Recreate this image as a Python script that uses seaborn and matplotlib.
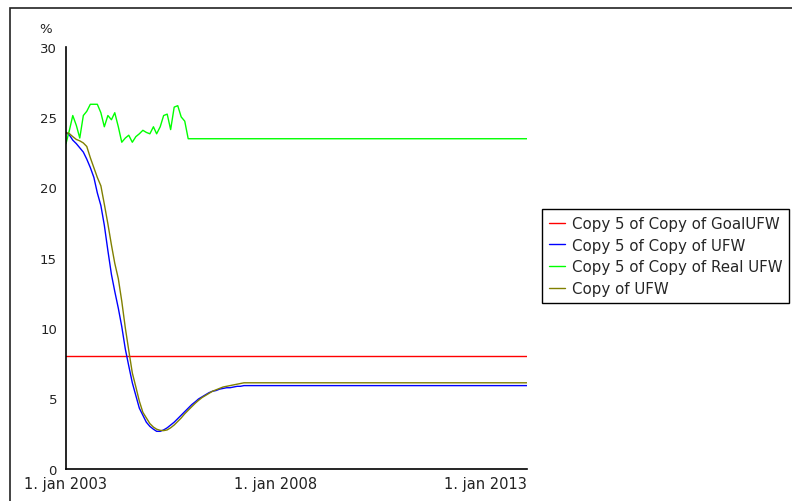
import numpy as np
import pandas as pd
import matplotlib
matplotlib.use("Agg")
import matplotlib.pyplot as plt
import seaborn as sns
from matplotlib.patches import Rectangle

# monthly values, jan 2003 onwards
months = pd.date_range("2003-01-01", "2014-01-01", freq="MS")

goal_level = 8.0

ufw_start = [23.9, 23.7, 23.35, 23.1, 22.8, 22.5, 22.0, 21.4, 20.7, 19.6,
             18.7, 17.3, 15.5, 13.8, 12.6, 11.4, 10.1, 8.5, 7.3, 6.1,
             5.2, 4.3, 3.8, 3.3, 3.0, 2.8, 2.65, 2.65, 2.75, 2.9,
             3.1, 3.3, 3.55, 3.8, 4.05, 4.3, 4.55, 4.75, 4.95, 5.1,
             5.25, 5.4, 5.5, 5.55, 5.65, 5.7, 5.75, 5.75, 5.8, 5.85,
             5.85, 5.9]
ufw_level = 5.9

real_start = [23.1, 24.1, 25.1, 24.4, 23.5, 25.1, 25.4, 25.9, 25.9, 25.9,
              25.3, 24.3, 25.1, 24.8, 25.3, 24.3, 23.2, 23.5, 23.7, 23.2,
              23.6, 23.8, 24.05, 23.9, 23.8, 24.3, 23.8, 24.3, 25.1, 25.2,
              24.1, 25.7, 25.8, 25.0, 24.7]
real_level = 23.45

copy_start = [23.9, 23.8, 23.6, 23.4, 23.3, 23.15, 22.9, 22.1, 21.4, 20.7,
              20.1, 18.8, 17.4, 15.9, 14.6, 13.5, 11.9, 10.0, 8.4, 6.8,
              5.8, 4.8, 4.0, 3.6, 3.2, 2.95, 2.8, 2.72, 2.7, 2.75,
              2.9, 3.1, 3.35, 3.6, 3.9, 4.15, 4.4, 4.65, 4.85, 5.05,
              5.2, 5.35, 5.5, 5.6, 5.7, 5.8, 5.85, 5.9, 5.95, 6.0,
              6.05, 6.1]
copy_level = 6.1

names = ["Copy 5 of Copy of GoalUFW", "Copy 5 of Copy of UFW",
         "Copy 5 of Copy of Real UFW", "Copy of UFW"]
colors = ["#ff0000", "#0000ff", "#00ff00", "#808000"]


def pad(vals, level):
    return list(vals) + [level] * (len(months) - len(vals))


series = {
    names[0]: pad([], goal_level),
    names[1]: pad(ufw_start, ufw_level),
    names[2]: pad(real_start, real_level),
    names[3]: pad(copy_start, copy_level),
}
df = pd.DataFrame(series, index=months)
df.index.name = "date"
long = df.reset_index().melt(id_vars="date", var_name="series", value_name="pct")

sns.set_style("white")
plt.rcParams["font.family"] = ["DejaVu Sans"]

fig = plt.figure(figsize=(7.92, 5.02), dpi=100)
ax = fig.add_axes([66 / 792, 32.4 / 502, 461 / 792, 422 / 502])

sns.lineplot(data=long, x="date", y="pct", hue="series", hue_order=names,
             palette=colors, linewidth=1.0, legend=False, ax=ax)

ax.set_xlim(pd.Timestamp("2003-01-01"), pd.Timestamp("2014-01-01"))
ax.set_ylim(0, 30)
ax.set_yticks([0, 5, 10, 15, 20, 25, 30])
xt = [pd.Timestamp("2003-01-01"), pd.Timestamp("2008-01-01"), pd.Timestamp("2013-01-01")]
ax.set_xticks(xt)
ax.set_xticklabels(["1. jan 2003", "1. jan 2008", "1. jan 2013"])
ax.set_xlabel("")
ax.set_ylabel("")

for s in ["top", "right"]:
    ax.spines[s].set_visible(False)
for s in ["left", "bottom"]:
    ax.spines[s].set_color("black")
    ax.spines[s].set_linewidth(1.2)
ax.tick_params(axis="both", direction="inout", length=9, width=1.2,
               color="black", labelcolor="#222222", pad=2)
ax.tick_params(axis="y", labelsize=9.5)
ax.tick_params(axis="x", labelsize=10.5, pad=1)
ax.patch.set_alpha(0)

fig.text(46 / 792, 1 - 30 / 502, "%", fontsize=9.5, color="#222222",
         ha="center", va="center")

# outer frame
fig.patches.append(Rectangle((10 / 792, -0.1), 1.2, 1 - 9 / 502 + 0.1,
                             transform=fig.transFigure, fill=False,
                             edgecolor="#222222", linewidth=1.2))

handles = [plt.Line2D([], [], color=c, lw=1.0) for c in colors]
fig.legend(handles, names, loc="upper left",
           bbox_to_anchor=(542 / 792, 1 - 210 / 502), fontsize=10.8,
           frameon=True, fancybox=False, edgecolor="black", framealpha=1,
           handlelength=1.07, handletextpad=0.45, borderpad=0.46,
           labelspacing=0.45, borderaxespad=0)

fig.savefig("out.png", dpi=100)
